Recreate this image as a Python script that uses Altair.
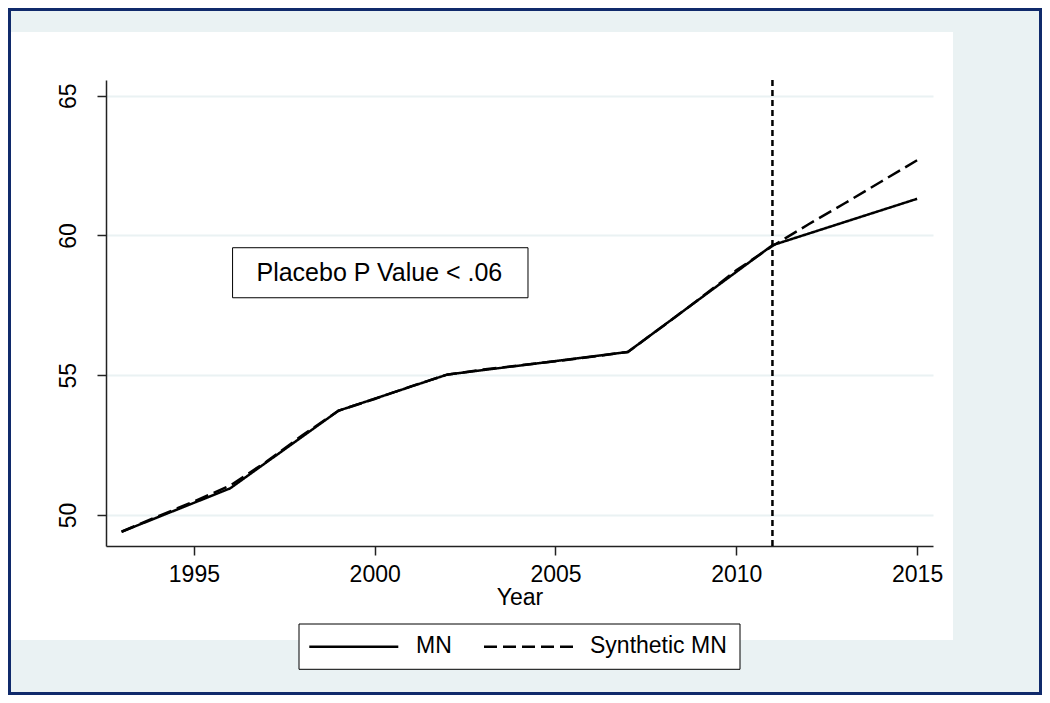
import altair as alt
import pandas as pd

# ---- data ----
years_mn = [1993, 1996, 1999, 2002, 2007, 2011, 2015]
mn_values = [49.40, 50.95, 53.73, 55.02, 55.83, 59.65, 61.31]
years_syn = [1993, 1994, 1995, 1996, 1997, 1998, 1999, 2000, 2001, 2002, 2003,
             2004, 2005, 2006, 2007, 2008, 2009, 2010, 2011, 2012, 2013, 2014, 2015]
syn_values = [49.40, 49.95, 50.48, 51.05, 51.90, 52.85, 53.73, 54.15, 54.60, 55.02, 55.20,
              55.35, 55.50, 55.66, 55.83, 56.78, 57.75, 58.75, 59.62, 60.40, 61.15, 61.92, 62.69]
series_names = ["MN", "Synthetic MN"]
treatment_year = [2011]
x_ticks = [1995, 2000, 2005, 2010, 2015]
y_ticks = [50, 55, 60, 65]
x_title = "Year"
annotation_text = ["Placebo P Value < .06"]

FONT = "Liberation Sans"
BG = "#eaf2f3"
NAVY = "#102a6b"
W, H = 827, 466
PAD = {"left": 98, "top": 72, "right": 109, "bottom": 149}

df = pd.concat([
    pd.DataFrame({"year": years_mn, "value": mn_values, "series": series_names[0]}),
    pd.DataFrame({"year": years_syn, "value": syn_values, "series": series_names[1]}),
], ignore_index=True)

xs = alt.Scale(domain=[1992.57, 2015.44], nice=False, zero=False)
ys = alt.Scale(domain=[48.89, 65.56], nice=False, zero=False)

one = pd.DataFrame({"k": [0]})


def box(x, x2, y, y2, **kw):
    return alt.Chart(one).mark_rect(**kw).encode(
        x=alt.value(x), x2=alt.value(x2), y=alt.value(y), y2=alt.value(y2))


# outer frame (light blue strips around the white panel + navy border)
strip_top = box(-98, 936, -72, -48, fill=BG)
strip_right = box(847, 936, -48, 615, fill=BG)
strip_bottom = box(-98, 847, 560, 615, fill=BG)
frame = box(-96.5, 934.5, -70.5, 613.5, fill=None, fillOpacity=0, stroke=NAVY, strokeWidth=3)

lines = alt.Chart(df).mark_line(color="black", strokeWidth=2.5).encode(
    x=alt.X("year:Q", scale=xs,
            axis=alt.Axis(values=x_ticks, format="d", title=x_title, grid=False,
                          labelPadding=8, titlePadding=0)),
    y=alt.Y("value:Q", scale=ys,
            axis=alt.Axis(values=y_ticks, title=None, grid=True, labelAngle=270,
                          labelAlign="center", labelBaseline="bottom", labelPadding=17)),
    strokeDash=alt.StrokeDash("series:N",
                              scale=alt.Scale(domain=series_names, range=[[1, 0], [14, 6]]),
                              legend=None),
    detail="series:N",
)

rule = alt.Chart(pd.DataFrame({"year": treatment_year})).mark_rule(
    color="black", strokeWidth=2.5, strokeDash=[6, 4]).encode(
    x=alt.X("year:Q", scale=xs))

ann_df = pd.DataFrame({"x": [1996.07], "x2": [2004.24], "y": [57.77], "y2": [59.56],
                       "tx": [2000.13], "ty": [58.67], "label": annotation_text})
ann_box = alt.Chart(ann_df).mark_rect(fill="white", stroke="black", strokeWidth=1).encode(
    x=alt.X("x:Q", scale=xs), x2="x2:Q", y=alt.Y("y:Q", scale=ys), y2="y2:Q")
ann_text = alt.Chart(ann_df).mark_text(font=FONT, fontSize=25, color="black",
                                       align="center", baseline="middle").encode(
    x=alt.X("tx:Q", scale=xs), y=alt.Y("ty:Q", scale=ys), text="label:N")

# legend drawn below the plot
leg_box = box(193, 634, 544, 589.3, fill="white", stroke="black", strokeWidth=1)
leg_solid = alt.Chart(one).mark_rule(color="black", strokeWidth=2.5).encode(
    x=alt.value(203.3), x2=alt.value(292.3), y=alt.value(566.7))
leg_dash = alt.Chart(one).mark_rule(color="black", strokeWidth=2.5, strokeDash=[13, 6]).encode(
    x=alt.value(378), x2=alt.value(467.3), y=alt.value(566.7))
leg_t1 = alt.Chart(pd.DataFrame({"label": [series_names[0]]})).mark_text(
    font=FONT, fontSize=23, align="left", baseline="middle", color="black").encode(
    x=alt.value(310), y=alt.value(565.5), text="label:N")
leg_t2 = alt.Chart(pd.DataFrame({"label": [series_names[1]]})).mark_text(
    font=FONT, fontSize=23, align="left", baseline="middle", color="black").encode(
    x=alt.value(484), y=alt.value(565.5), text="label:N")

chart = alt.layer(
    strip_top, strip_right, strip_bottom, frame,
    ann_box, ann_text, lines, rule,
    leg_box, leg_solid, leg_dash, leg_t1, leg_t2,
).properties(
    width=W, height=H, padding=PAD,
    autosize=alt.AutoSizeParams(type="none"),
    background="white",
).configure_view(stroke=None).configure_axis(
    domainColor="#222222", domainWidth=1.5,
    tickColor="#222222", tickWidth=1.5, tickSize=9,
    labelFont=FONT, labelFontSize=23, labelColor="black",
    titleFont=FONT, titleFontSize=23, titleFontWeight="normal", titleColor="black",
    gridColor=BG, gridWidth=2,
)

chart.save("out.html", embed_options={"renderer": "svg", "actions": False})
